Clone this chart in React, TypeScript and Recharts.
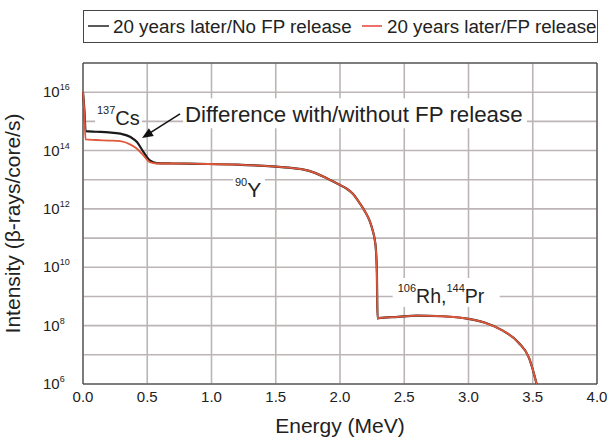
import React from 'react';
import {
  LineChart,
  Line,
  XAxis,
  YAxis,
  CartesianGrid,
  Legend,
  ReferenceArea,
  ReferenceDot,
  Label,
} from 'recharts';

const FONT = '"Liberation Sans", Arial, Helvetica, sans-serif';

// Energy (MeV)
const energy = [
  0, 0.012, 0.02, 0.1, 0.2, 0.29, 0.37, 0.42, 0.47, 0.52, 0.575, 0.7, 0.9, 1.2,
  1.5, 1.6, 1.7, 1.8, 1.9, 2.0, 2.05, 2.1, 2.15, 2.2, 2.23, 2.255, 2.27, 2.28,
  2.287, 2.292, 2.3, 2.45, 2.6, 2.8, 3.0, 3.13, 3.26, 3.39, 3.47, 3.51, 3.53,
];

// 20 years later / No FP release (beta-rays/core/s)
const noRelease = [
  1e16, 2e15, 4.6e14, 4.4e14, 4.2e14, 3.8e14, 2.9e14, 1.95e14, 9e13, 4.6e13,
  3.7e13, 3.6e13, 3.5e13, 3.3e13, 2.8e13, 2.6e13, 2.3e13, 1.75e13, 1.1e13,
  6.6e12, 5e12, 3.3e12, 1.65e12, 7.4e11, 4e11, 1.8e11, 9e10, 3.7e10, 6.3e9,
  1.75e8, 1.8e8, 2.0e8, 2.2e8, 2.1e8, 1.7e8, 1.25e8, 7e7, 2.6e7, 8e6, 2.2e6, 1e6,
];

// 20 years later / FP release (beta-rays/core/s)
const fpRelease = [
  1e16, 1.5e15, 2.4e14, 2.3e14, 2.2e14, 2.1e14, 1.6e14, 1.15e14, 6.8e13, 4.0e13,
  3.6e13, 3.6e13, 3.5e13, 3.3e13, 2.8e13, 2.6e13, 2.3e13, 1.75e13, 1.1e13,
  6.6e12, 5e12, 3.3e12, 1.65e12, 7.4e11, 4e11, 1.8e11, 9e10, 3.7e10, 6.3e9,
  1.75e8, 1.8e8, 2.0e8, 2.2e8, 2.1e8, 1.7e8, 1.25e8, 7e7, 2.6e7, 8e6, 2.2e6, 1e6,
];

const xTicks = [0, 0.5, 1, 1.5, 2, 2.5, 3, 3.5, 4];
const yTicks = [1e6, 1e7, 1e8, 1e9, 1e10, 1e11, 1e12, 1e13, 1e14, 1e15, 1e16, 1e17];

const seriesNames = ['20 years later/No FP release', '20 years later/FP release'];

const data = energy.map((e, i) => ({
  energy: e,
  noRelease: noRelease[i],
  fpRelease: fpRelease[i],
}));

const TEXT = '#222';

const YTick = (props: any) => {
  const { x, y, payload } = props;
  const exp = Math.round(Math.log10(payload.value));
  if (exp % 2 !== 0 || exp > 16) return <g />;
  return (
    <text x={x - 32} y={y + 5} fill={TEXT} fontSize={15} fontFamily={FONT} textAnchor="start">
      10
      <tspan dy={-7} fontSize={9}>
        {exp}
      </tspan>
    </text>
  );
};

const XTick = (props: any) => {
  const { x, y, payload } = props;
  return (
    <text x={x} y={y + 10} fill={TEXT} fontSize={15} fontFamily={FONT} textAnchor="middle">
      {Number(payload.value).toFixed(1)}
    </text>
  );
};

const YLabel = (props: any) => {
  const vb = props.viewBox || { x: 0, y: 63, width: 83, height: 321 };
  const cx = 20;
  const cy = vb.y + vb.height / 2;
  return (
    <text
      x={cx}
      y={cy}
      transform={`rotate(-90, ${cx}, ${cy})`}
      textAnchor="middle"
      fontSize={21}
      fontFamily={FONT}
      fill={TEXT}
    >
      Intensity (β-rays/core/s)
    </text>
  );
};

const LegendBox = () => (
  <svg width={515} height={34} style={{ display: 'block' }}>
    <rect x={0.5} y={0.5} width={514} height={32} fill="#fff" stroke="#444" strokeWidth={1} />
    <line x1={5} x2={26} y1={16} y2={16} stroke="#222" strokeWidth={1.5} />
    <text x={30} y={22.5} fontSize={18.8} fontFamily={FONT} fill={TEXT}>
      {seriesNames[0]}
    </text>
    <line x1={279} x2={299} y1={16} y2={16} stroke="#e8403a" strokeWidth={1.5} />
    <text x={304} y={22.5} fontSize={18.8} fontFamily={FONT} fill={TEXT}>
      {seriesNames[1]}
    </text>
  </svg>
);

// Annotation anchors in data coordinates
const annCs = { x: 0.109, y: 7.5e14 };
const annDiff = { x: 0.794, y: 9.3e14 };
const annY = { x: 1.183, y: 2.5e12 };
const annRh = { x: 2.449, y: 6.2e8 };

const CsShape = (p: any) => {
  const { cx, cy } = p;
  return (
    <g>
      <rect x={cx - 2} y={cy - 21} width={47} height={24} fill="#fff" />
      <text x={cx} y={cy} fontFamily={FONT} fill={TEXT} fontSize={20}>
        <tspan fontSize={11} dy={-11.5}>137</tspan>
        <tspan dy={11.5}>Cs</tspan>
      </text>
    </g>
  );
};

const DiffShape = (p: any) => {
  const { cx, cy } = p;
  const sx = cx - 5;
  const sy = cy - 8.3;
  const tx = cx - 43;
  const ty = cy + 15.7;
  const dx = tx - sx;
  const dy = ty - sy;
  const len = Math.sqrt(dx * dx + dy * dy);
  const ux = dx / len;
  const uy = dy / len;
  const bx = tx - 11 * ux;
  const by = ty - 11 * uy;
  const px = -uy;
  const py = ux;
  const hw = 4.5;
  return (
    <g>
      <rect x={cx - 2} y={cy - 24} width={344} height={30} fill="#fff" />
      <text x={cx} y={cy} fontFamily={FONT} fill={TEXT} fontSize={22.3}>
        Difference with/without FP release
      </text>
      <line x1={sx} y1={sy} x2={bx + 2 * ux} y2={by + 2 * uy} stroke="#111" strokeWidth={1.5} />
      <polygon
        points={`${tx},${ty} ${bx + hw * px},${by + hw * py} ${bx - hw * px},${by - hw * py}`}
        fill="#111"
      />
    </g>
  );
};

const YShape = (p: any) => {
  const { cx, cy } = p;
  return (
    <g>
      <rect x={cx - 2} y={cy - 19} width={32} height={22} fill="#fff" />
      <text x={cx} y={cy} fontFamily={FONT} fill={TEXT} fontSize={21}>
        <tspan fontSize={11} dy={-11}>90</tspan>
        <tspan dy={11}>Y</tspan>
      </text>
    </g>
  );
};

const RhShape = (p: any) => {
  const { cx, cy } = p;
  return (
    <g>
      <rect x={cx - 5} y={cy - 24.5} width={107} height={29} fill="#fff" />
      <text x={cx} y={cy} fontFamily={FONT} fill={TEXT} fontSize={19.5}>
        <tspan fontSize={11} dy={-11}>106</tspan>
        <tspan dy={11}>Rh,</tspan>
        <tspan fontSize={11} dy={-11}>144</tspan>
        <tspan dy={11}>Pr</tspan>
      </text>
    </g>
  );
};

export default function App() {
  return (
    <div style={{ position: 'absolute', left: 0, top: 0, width: 609, height: 441, background: '#fff' }}>
      <LineChart
        width={609}
        height={441}
        data={data}
        margin={{ top: 63, right: 12, bottom: 0, left: 0 }}
        style={{ fontFamily: FONT }}
      >
        <CartesianGrid stroke="#bdb5b5" strokeWidth={1.6} />
        <XAxis
          dataKey="energy"
          type="number"
          domain={[0, 4]}
          ticks={xTicks}
          tick={<XTick />}
          axisLine={false}
          tickLine={false}
          height={57}
          label={{
            value: 'Energy (MeV)',
            position: 'insideBottom',
            offset: 8,
            fontSize: 21,
            fill: TEXT,
            fontFamily: FONT,
          }}
        />
        <YAxis
          type="number"
          scale="log"
          domain={[1e6, 1e17]}
          allowDataOverflow
          ticks={yTicks}
          tick={<YTick />}
          axisLine={false}
          tickLine={false}
          width={83}
        >
          <Label content={<YLabel />} />
        </YAxis>
        <Legend
          verticalAlign="middle"
          layout="horizontal"
          wrapperStyle={{ top: 10, left: 83, width: 515, height: 34 }}
          content={() => <LegendBox />}
        />
        <ReferenceArea x1={0} x2={4} y1={1e6} y2={1e17} fill="none" stroke="#333" strokeWidth={1} />
        <Line
          dataKey="noRelease"
          name={seriesNames[0]}
          type="monotone"
          stroke="#1a1a1a"
          strokeWidth={2.2}
          dot={false}
          isAnimationActive={false}
        />
        <Line
          dataKey="fpRelease"
          name={seriesNames[1]}
          type="monotone"
          stroke="#e0573a"
          strokeWidth={1.8}
          dot={false}
          isAnimationActive={false}
        />
        <ReferenceDot x={annCs.x} y={annCs.y} r={0} shape={CsShape} />
        <ReferenceDot x={annDiff.x} y={annDiff.y} r={0} shape={DiffShape} />
        <ReferenceDot x={annY.x} y={annY.y} r={0} shape={YShape} />
        <ReferenceDot x={annRh.x} y={annRh.y} r={0} shape={RhShape} />
      </LineChart>
    </div>
  );
}
